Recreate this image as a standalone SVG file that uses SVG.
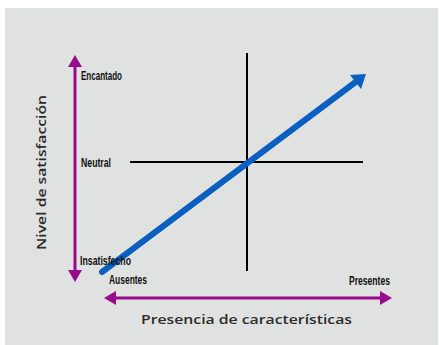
<svg xmlns="http://www.w3.org/2000/svg" width="439" height="345" viewBox="0 0 439 345">
<defs>
<style>
.lab{font-family:"Liberation Sans",Arial,sans-serif;font-weight:bold;font-size:13px;fill:#111}
.ax{font-family:"Open Sans","DejaVu Sans",sans-serif;font-weight:600;font-size:13px;fill:#2b2b2b}
.purple{stroke:#980b8c;stroke-width:3;fill:none}
.black{stroke:#000;stroke-width:2;fill:none}
</style>
<marker id="ph" viewBox="0 0 12 14" refX="2" refY="7" markerWidth="12" markerHeight="14" orient="auto-start-reverse" markerUnits="userSpaceOnUse">
<path d="M0,0 L12,7 L0,14 Z" fill="#980b8c"/>
</marker>
</defs>
<rect x="0" y="0" width="439" height="345" fill="#ffffff"/>
<rect x="5" y="8" width="433" height="337" fill="#dfe2e1"/>
<g id="connectors">
<line class="purple" x1="75" y1="65" x2="75" y2="272" marker-start="url(#ph)" marker-end="url(#ph)"/>
<line class="purple" x1="114" y1="298" x2="382" y2="298" marker-start="url(#ph)" marker-end="url(#ph)"/>
<line class="black" x1="247" y1="53" x2="247" y2="271"/>
<line class="black" x1="130" y1="162" x2="363" y2="162"/>
<line x1="102" y1="272" x2="357" y2="81" stroke="#0a5fc0" stroke-width="6" stroke-linecap="round"/>
<polygon points="366,74 350,75 361,89" fill="#0a5fc0"/>
</g>
<g id="label-encantado"><text class="lab" x="81" y="80" textLength="41" lengthAdjust="spacingAndGlyphs">Encantado</text></g>
<g id="label-neutral"><text class="lab" x="81" y="167" textLength="30" lengthAdjust="spacingAndGlyphs">Neutral</text></g>
<g id="label-insatisfecho"><text class="lab" x="80" y="265" textLength="51" lengthAdjust="spacingAndGlyphs">Insatisfecho</text></g>
<g id="label-ausentes"><text class="lab" x="109" y="284" textLength="38" lengthAdjust="spacingAndGlyphs">Ausentes</text></g>
<g id="label-presentes"><text class="lab" x="349" y="285" textLength="41" lengthAdjust="spacingAndGlyphs">Presentes</text></g>
<g id="axis-x"><text class="ax" x="141" y="324" textLength="211" lengthAdjust="spacingAndGlyphs">Presencia de características</text></g>
<g id="axis-y"><text class="ax" transform="translate(46,250) rotate(-90)" x="0" y="0" textLength="155" lengthAdjust="spacingAndGlyphs">Nivel de satisfacción</text></g>
</svg>
